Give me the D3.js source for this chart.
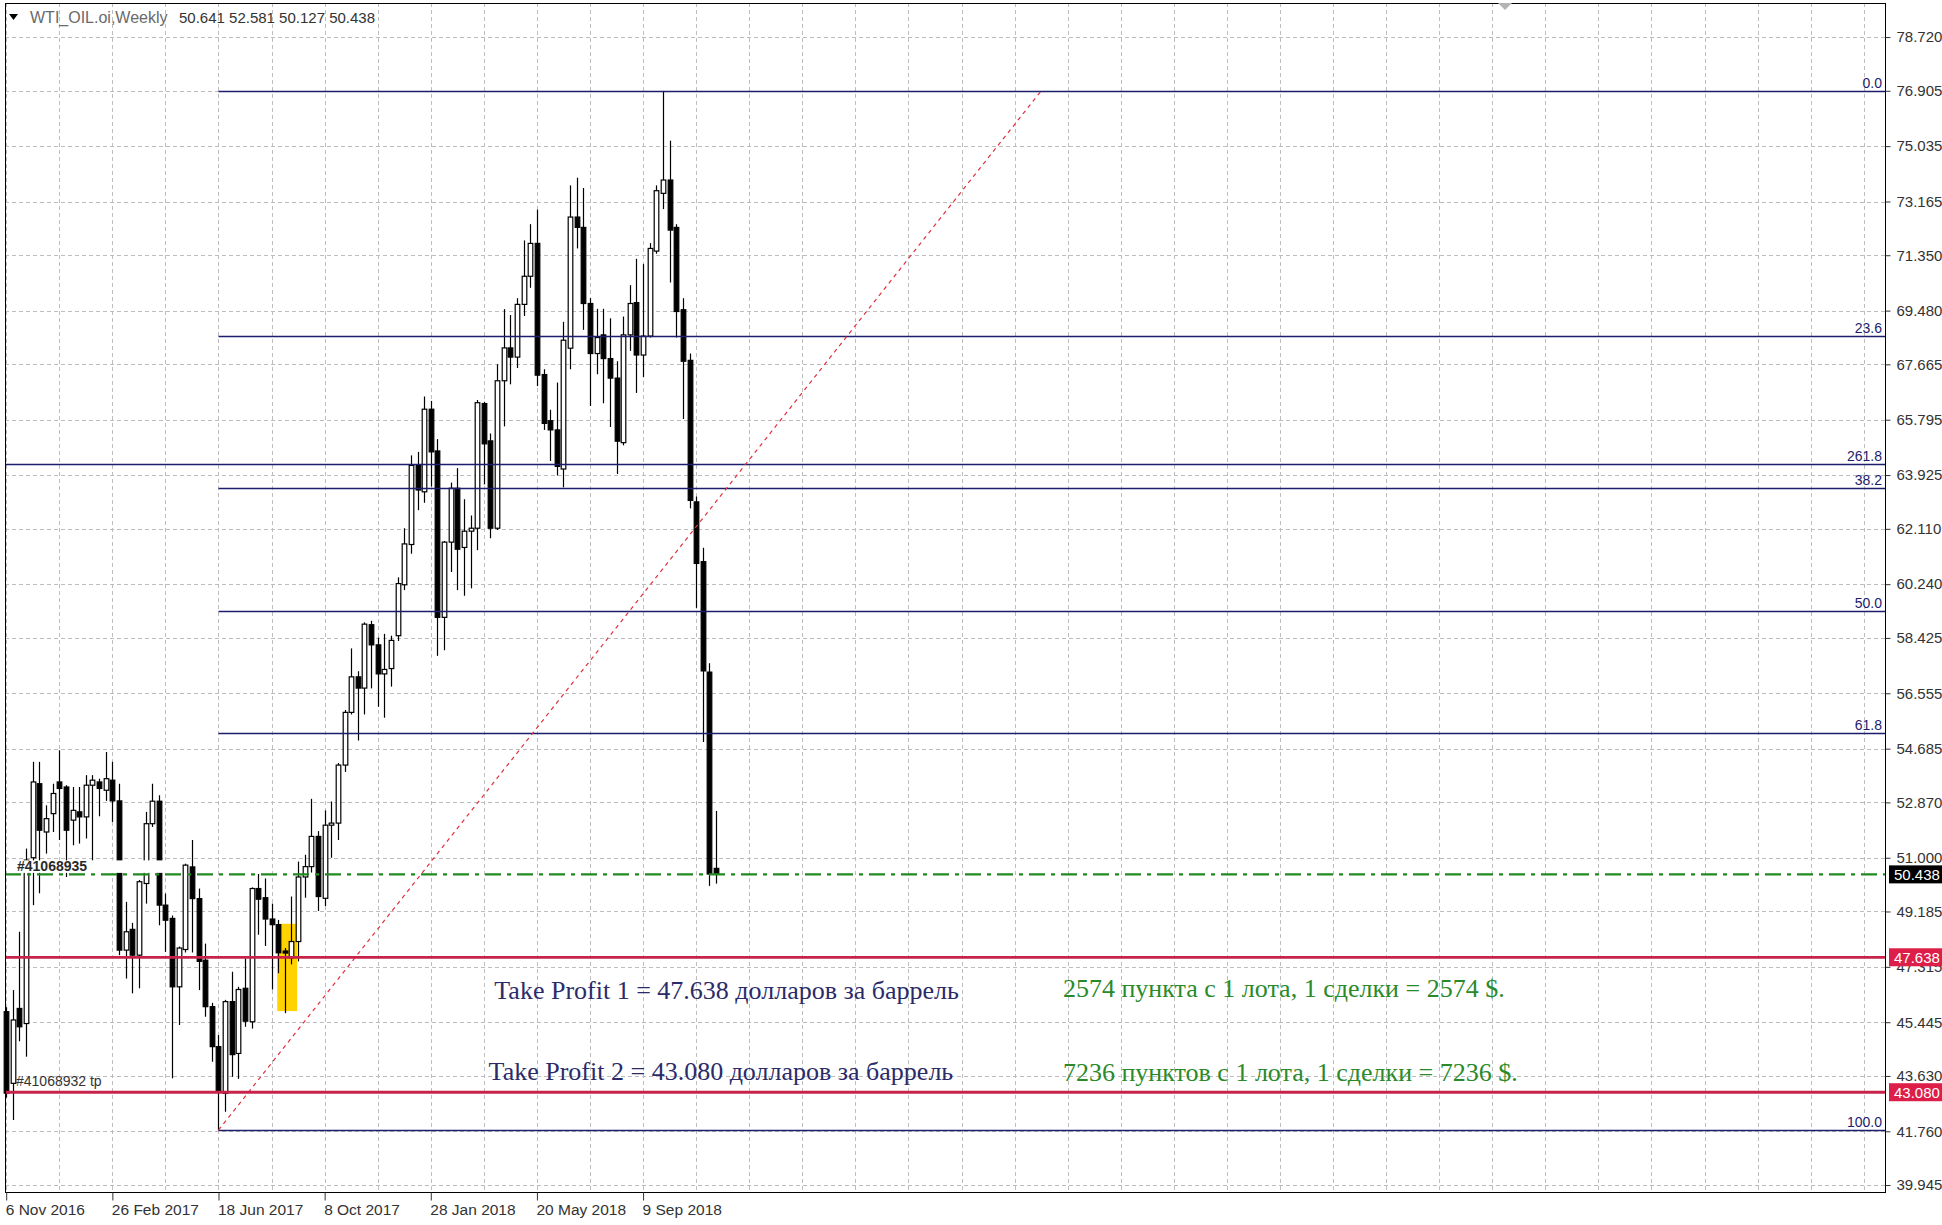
<!DOCTYPE html>
<html>
<head>
<meta charset="utf-8">
<script src="https://cdn.jsdelivr.net/npm/d3@7"></script>
<style>
  html, body { margin: 0; padding: 0; background: #fff; }
  svg { display: block; }
</style>
</head>
<body>
<svg id="chart" width="1942" height="1225"></svg>
<script>
// ---- Weekly WTI bars (one bar per week, starting on the first week below) ----
const symbolName = "WTI_OIL.oi,Weekly";
const firstWeek = "2016-11-06";

const opens = [45.80,43.38,45.91,45.40,51.00,53.50,51.87,52.49,53.56,53.39,
  52.27,52.55,52.38,53.45,53.56,53.28,53.62,52.92,47.88,48.58,
  47.71,50.13,52.15,52.91,49.40,48.95,46.64,47.90,50.69,49.62,
  47.54,45.97,44.62,43.04,46.14,44.39,46.59,45.46,49.96,49.65,
  48.93,48.74,47.85,47.62,48.17,50.35,50.70,51.72,49.63,52.10,
  52.17,54.13,55.91,57.11,56.73,58.87,58.19,57.21,57.39,58.50,
  60.22,61.58,64.25,63.36,66.15,64.74,59.12,61.66,63.48,61.48,
  62.03,62.13,66.34,65.08,62.13,67.11,68.22,67.91,69.69,70.64,
  71.75,67.32,65.76,65.45,64.13,68.21,72.64,72.29,69.72,68.03,
  68.66,67.86,67.20,65.02,68.66,69.75,67.98,68.62,71.49,73.44,
  73.89,72.29,69.51,67.80,63.02,61.00,57.27,50.641];

const highs = [45.95,46.53,48.50,51.31,54.24,54.24,52.77,53.50,54.63,53.45,
  53.39,53.39,53.79,53.79,53.67,54.57,54.24,53.50,49.51,48.80,
  50.25,52.55,53.50,53.11,49.79,49.05,48.00,50.80,51.60,49.96,
  48.10,46.10,45.01,46.20,47.15,46.64,47.60,50.00,50.45,50.30,
  49.45,48.90,47.95,49.69,50.87,51.10,52.99,51.90,52.60,52.90,
  54.20,55.99,58.07,57.30,58.95,59.00,58.44,58.56,58.50,60.47,
  62.13,64.59,64.71,66.58,66.43,65.14,61.70,63.67,64.16,63.11,
  62.56,66.46,66.40,65.33,67.67,69.53,69.33,69.90,71.85,72.40,
  72.89,67.50,66.13,67.05,69.10,73.71,73.97,73.62,69.90,69.54,
  69.54,69.22,67.77,69.28,70.34,71.23,71.05,71.76,73.71,76.90,
  75.22,72.40,69.90,68.03,63.20,61.47,57.57,52.581];

const lows = [42.90,42.14,44.80,44.28,49.40,49.80,51.14,51.87,51.60,50.35,
  51.42,51.48,51.65,50.90,52.40,52.92,52.21,47.71,46.92,46.42,
  46.59,49.45,52.04,48.72,47.82,43.55,45.35,47.80,47.80,46.53,
  45.63,44.11,41.80,42.42,43.60,43.53,45.29,45.23,48.40,48.02,
  46.55,47.10,45.75,47.40,47.50,49.65,50.50,49.20,49.37,51.00,
  51.60,53.90,55.84,54.96,55.84,56.72,56.10,55.73,56.78,58.32,
  60.04,61.27,62.74,62.99,63.54,57.82,58.01,60.65,60.04,59.85,
  60.10,61.39,63.61,61.79,62.07,65.57,66.99,67.54,69.30,70.25,
  66.93,65.45,64.40,63.91,63.51,67.50,71.58,68.83,66.26,67.33,
  66.35,65.55,63.96,64.93,68.12,66.70,67.24,68.57,71.40,72.91,
  70.43,68.57,65.82,62.80,59.44,54.91,50.05,50.127];

const closes = [43.05,45.52,45.29,50.92,53.56,51.93,52.32,53.17,53.34,51.93,
  52.60,52.38,53.45,53.62,53.34,53.67,52.92,47.88,48.50,47.71,
  50.19,52.15,52.91,49.40,48.89,46.64,47.95,50.75,49.62,47.50,
  45.97,44.62,43.10,46.14,44.35,46.55,45.48,49.96,49.60,48.93,
  48.74,47.79,47.78,48.17,50.35,50.70,51.72,49.69,52.10,52.17,
  54.13,55.91,57.11,56.73,58.89,58.19,57.21,57.36,58.34,60.26,
  61.60,64.25,63.42,66.15,64.71,59.12,61.66,63.48,61.42,62.03,
  62.13,66.37,64.98,62.13,67.11,68.22,67.91,69.69,70.64,71.75,
  67.30,65.67,65.45,64.22,68.48,72.64,72.29,69.72,68.03,68.57,
  67.86,67.20,65.07,68.66,69.72,67.98,68.62,71.58,73.53,73.89,
  72.20,69.45,67.77,63.07,60.94,57.31,50.45,50.438];

// ---- Axis tick labels ----
const priceTicks = [78.720,76.905,75.035,73.165,71.350,69.480,67.665,65.795,63.925,
  62.110,60.240,58.425,56.555,54.685,52.870,51.000,49.185,47.315,45.445,43.630,41.760,39.945];
const dateTicks = ["6 Nov 2016","26 Feb 2017","18 Jun 2017","8 Oct 2017","28 Jan 2018","20 May 2018","9 Sep 2018"];

// ---- Fibonacci retracement (low of June 2017 to the October 2018 high) ----
const fibLow = 41.80, fibHigh = 76.90;
const fibStartDate = "2017-06-18", fibEndDate = "2019-11-03";
const fibRatios = [0.0, 23.6, 38.2, 50.0, 61.8, 100.0];
const extensionLevels = [{ label: "261.8", price: 64.29 }];

// ---- Orders and levels ----
const bidPrice = 50.438;
const takeProfits = [47.638, 43.080];
const orderLabels = ["#41068935", "#41068932 tp"];
const zone = { from: "2017-08-19", to: "2017-09-09", top: 48.77, bottom: 45.82 };

const notes = [
  "Take Profit 1 = 47.638 долларов за баррель",
  "2574 пункта с 1 лота, 1 сделки = 2574 $.",
  "Take Profit 2 = 43.080 долларов за баррель",
  "7236 пунктов с 1 лота, 1 сделки = 7236 $."
];
// where each note is anchored on the chart (time, price of the baseline)
const noteAnchors = [
  { date: "2018-04-05", price: 46.23 },
  { date: "2019-11-26", price: 46.30 },
  { date: "2018-03-30", price: 43.50 },
  { date: "2019-11-26", price: 43.46 }
];

// ================= drawing =================
const W = 1942, H = 1225;
const plot = { left: 5, right: 1885, top: 3, bottom: 1192 };
const visibleWeeks = 283.2;
const WEEK = 7 * 864e5;

const parseDay = d3.utcParse("%Y-%m-%d");
const parseTick = d3.utcParse("%e %b %Y");
const d0 = parseDay(firstWeek);
const dates = opens.map((_, i) => new Date(d0.getTime() + i * WEEK));
const bars = opens.map((o, i) => ({ date: dates[i], o, h: highs[i], l: lows[i], c: closes[i] }));

const x = d3.scaleUtc()
  .domain([d0, new Date(d0.getTime() + visibleWeeks * WEEK)])
  .range([6.2, plot.right]);
const y = d3.scaleLinear().domain([39.71, 79.87]).range([plot.bottom, plot.top]);

const px = v => Math.round(v) + 0.5;

const svg = d3.select("#chart");
svg.append("rect").attr("width", W).attr("height", H).attr("fill", "#fff");

const font = "'Liberation Sans', Arial, sans-serif";
const serif = "'Liberation Serif', 'Times New Roman', serif";
const navy = "#1d1d6e";
const crimson = "#c8234a";

// grid
const gridDates = d3.range(0, visibleWeeks, 8).map(k => new Date(d0.getTime() + k * WEEK));
const grid = svg.append("g")
  .attr("stroke", "#bdbdbd").attr("stroke-width", 1).attr("stroke-dasharray", "4,3");
grid.selectAll("line.gh").data(priceTicks).join("line").attr("class", "gh")
  .attr("x1", plot.left).attr("x2", plot.right)
  .attr("y1", d => px(y(d))).attr("y2", d => px(y(d)));
grid.selectAll("line.gv").data(gridDates).join("line").attr("class", "gv")
  .attr("x1", d => px(x(d))).attr("x2", d => px(x(d)))
  .attr("y1", plot.top).attr("y2", plot.bottom);

// highlighted zone (behind the bars)
svg.append("rect")
  .attr("x", x(parseDay(zone.from)))
  .attr("width", x(parseDay(zone.to)) - x(parseDay(zone.from)))
  .attr("y", y(zone.top))
  .attr("height", y(zone.bottom) - y(zone.top))
  .attr("fill", "#ffd200");

// candlesticks
const bodyW = 4.6;
const cg = svg.append("g");
cg.selectAll("line").data(bars).join("line")
  .attr("x1", d => px(x(d.date))).attr("x2", d => px(x(d.date)))
  .attr("y1", d => y(d.h)).attr("y2", d => y(d.l))
  .attr("stroke", "#000").attr("stroke-width", 1.2);
cg.selectAll("rect").data(bars).join("rect")
  .attr("x", d => px(x(d.date)) - bodyW / 2)
  .attr("width", bodyW)
  .attr("y", d => y(Math.max(d.o, d.c)))
  .attr("height", d => Math.max(1, Math.abs(y(d.o) - y(d.c))))
  .attr("fill", d => d.c >= d.o ? "#fff" : "#000")
  .attr("stroke", "#000").attr("stroke-width", 1.2);

// fibonacci levels
const fibStart = x(parseDay(fibStartDate));
const fibLevels = fibRatios.map(r => ({
  label: r.toFixed(1),
  price: fibHigh - r / 100 * (fibHigh - fibLow),
  x1: fibStart
})).concat(extensionLevels.map(e => ({ label: e.label, price: e.price, x1: plot.left })));

const fg = svg.append("g");
fg.selectAll("line").data(fibLevels).join("line")
  .attr("x1", d => d.x1).attr("x2", plot.right)
  .attr("y1", d => px(y(d.price))).attr("y2", d => px(y(d.price)))
  .attr("stroke", navy).attr("stroke-width", 1.3);
fg.selectAll("text").data(fibLevels).join("text")
  .attr("x", plot.right - 3).attr("y", d => y(d.price) - 3)
  .attr("text-anchor", "end")
  .attr("font-family", font).attr("font-size", 14).attr("fill", navy)
  .text(d => d.label);

// trend line of the retracement
svg.append("line")
  .attr("x1", fibStart).attr("y1", y(fibLow))
  .attr("x2", x(parseDay(fibEndDate))).attr("y2", y(fibHigh))
  .attr("stroke", "#e0303c").attr("stroke-width", 1.2).attr("stroke-dasharray", "4,4");

// take-profit lines
svg.append("g").selectAll("line").data(takeProfits).join("line")
  .attr("x1", plot.left).attr("x2", plot.right)
  .attr("y1", d => y(d)).attr("y2", d => y(d))
  .attr("stroke", crimson).attr("stroke-width", 2.8);

// current price line
svg.append("line")
  .attr("x1", plot.left).attr("x2", plot.right)
  .attr("y1", y(bidPrice)).attr("y2", y(bidPrice))
  .attr("stroke", "#1f8a1f").attr("stroke-width", 2.4)
  .attr("stroke-dasharray", "16,6,4,6");

// order labels
svg.append("rect")
  .attr("x", 14).attr("width", 168)
  .attr("y", y(bidPrice) - 14).attr("height", 12.5)
  .attr("fill", "#fff");
svg.append("text")
  .attr("x", 17).attr("y", y(bidPrice) - 3)
  .attr("font-family", font).attr("font-size", 14).attr("font-weight", "bold").attr("fill", "#2a2a2a")
  .text(orderLabels[0]);
svg.append("text")
  .attr("x", 16).attr("y", y(takeProfits[1]) - 6)
  .attr("font-family", font).attr("font-size", 14).attr("fill", "#333")
  .text(orderLabels[1]);

// notes
svg.append("g").selectAll("text").data(notes).join("text")
  .attr("x", (d, i) => x(parseDay(noteAnchors[i].date)))
  .attr("y", (d, i) => y(noteAnchors[i].price))
  .attr("font-family", serif).attr("font-size", 26)
  .attr("fill", (d, i) => i % 2 === 0 ? "#2b2b6a" : "#2a8a2a")
  .text(d => d);

// frame
svg.append("rect")
  .attr("x", plot.left + 0.5).attr("y", plot.top + 0.5)
  .attr("width", plot.right - plot.left).attr("height", plot.bottom - plot.top)
  .attr("fill", "none").attr("stroke", "#000").attr("stroke-width", 1);

// price axis
const yAxis = d3.axisRight(y).tickValues(priceTicks).tickFormat(d3.format(".3f"))
  .tickSize(5).tickSizeOuter(0).tickPadding(6);
const gy = svg.append("g").attr("transform", `translate(${plot.right + 0.5},0)`).call(yAxis);
gy.select(".domain").remove();
gy.selectAll("text").attr("font-family", font).attr("font-size", 15).attr("fill", "#333");
gy.selectAll("line").attr("stroke", "#333");

// time axis
const xAxis = d3.axisBottom(x).tickValues(dateTicks.map(parseTick))
  .tickFormat((d, i) => dateTicks[i]).tickSize(8).tickSizeOuter(0).tickPadding(3);
const gx = svg.append("g").attr("transform", `translate(0,${plot.bottom + 0.5})`).call(xAxis);
gx.select(".domain").remove();
gx.selectAll("text").attr("text-anchor", "start").attr("dx", -1)
  .attr("font-family", font).attr("font-size", 15.5).attr("fill", "#333");
gx.selectAll("line").attr("stroke", "#333");

// price tags on the axis
const tags = [{ v: bidPrice, fill: "#000" }].concat(takeProfits.map(v => ({ v, fill: "#dc1e48" })));
const tg = svg.append("g").selectAll("g").data(tags).join("g")
  .attr("transform", d => `translate(${plot.right + 4},${y(d.v)})`);
tg.append("rect").attr("x", 0).attr("y", -9).attr("width", W - plot.right - 4).attr("height", 18)
  .attr("fill", d => d.fill);
tg.append("text").attr("x", 5).attr("y", 5.5)
  .attr("font-family", font).attr("font-size", 15).attr("fill", "#fff")
  .text(d => d.v.toFixed(3));

// header
svg.append("path").attr("d", "M9,14 L18,14 L13.5,20 Z").attr("fill", "#000");
const lastBar = bars[bars.length - 1];
svg.append("text").attr("x", 30).attr("y", 23)
  .attr("font-family", font).attr("font-size", 16).attr("fill", "#6a6a6a")
  .text(symbolName);
svg.append("text").attr("x", 179).attr("y", 23)
  .attr("font-family", font).attr("font-size", 15).attr("fill", "#333")
  .text([lastBar.o, lastBar.h, lastBar.l, lastBar.c].map(v => v.toFixed(3)).join(" "));

// chart shift marker
svg.append("path").attr("d", "M1498,3 L1512,3 L1505,10 Z").attr("fill", "#b4b4b4");
</script>
</body>
</html>
